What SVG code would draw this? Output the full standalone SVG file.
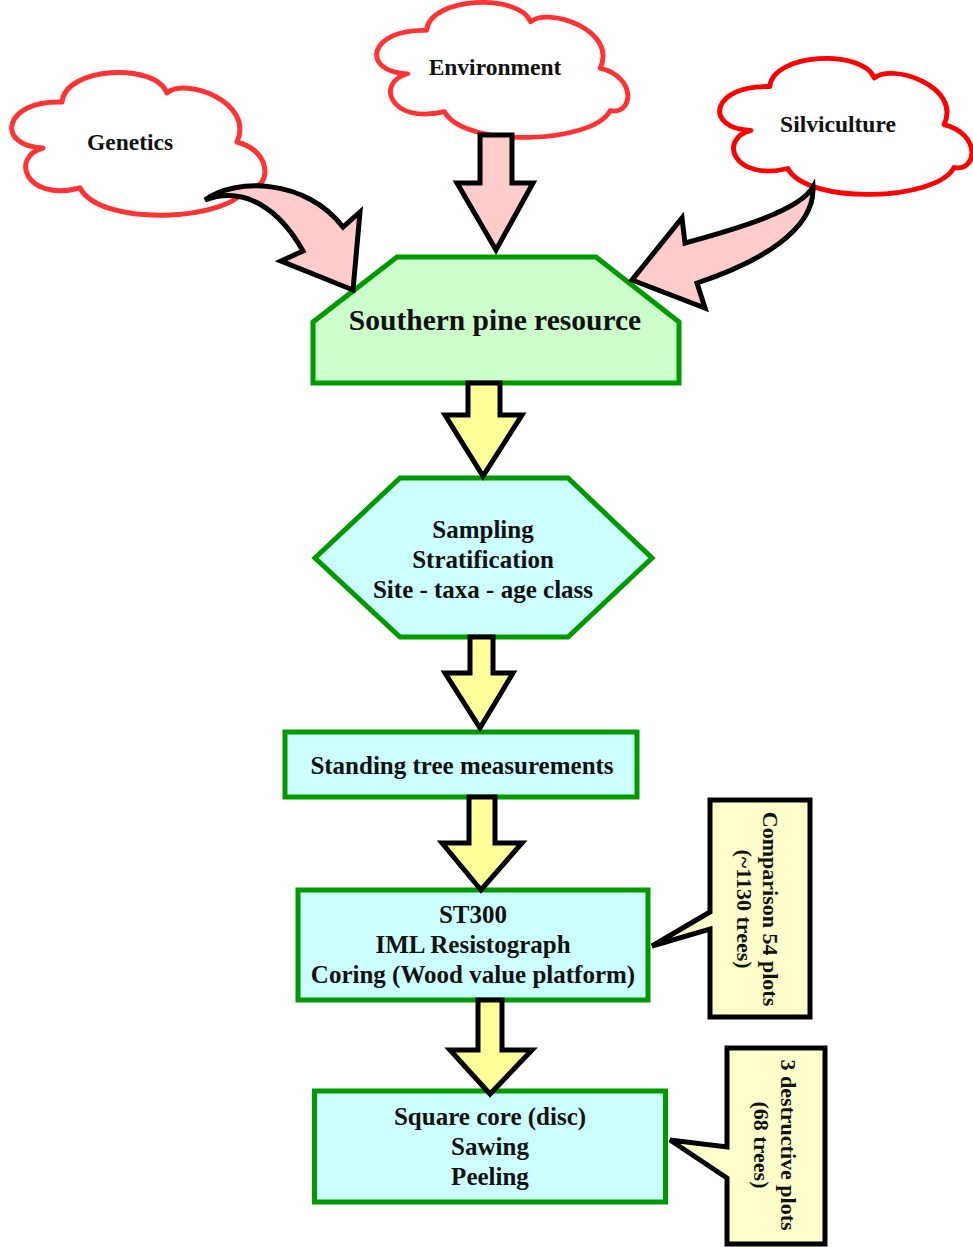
<svg xmlns="http://www.w3.org/2000/svg" width="973" height="1247" viewBox="0 0 973 1247">
<style>
.t{font-family:"Liberation Serif","Times New Roman",serif;font-weight:bold;fill:#111;text-anchor:middle}
.cloud{fill:#fff;stroke-width:5;stroke-linejoin:round}
.node{stroke:#009900;stroke-width:5}
.pk{fill:#FFCCCC;stroke:#000;stroke-width:5;stroke-linejoin:miter}
.yl{fill:#FFFF99;stroke:#000;stroke-width:5;stroke-linejoin:miter}
.co{fill:#FFFFCC;stroke:#000;stroke-width:5}
</style>
<defs>
<path id="cloudShape" d="M38,76 C-10,74 -2,28 57,30 C60,-5 150,-10 162,21 C180,5 250,30 232,70 C270,80 265,120 242,115 C225,150 95,155 75,116 C20,130 5,85 38,76 Z"/>
</defs>
<rect width="973" height="1247" fill="#fff"/>
<g id="genetics">
<use href="#cloudShape" class="cloud" stroke="#FF3333" transform="translate(5,72)"/>
<text class="t" x="130" y="150" font-size="23.5">Genetics</text>
</g>
<g id="environment">
<use href="#cloudShape" class="cloud" stroke="#FF3333" transform="translate(370,2) scale(0.992,0.945)"/>
<text class="t" x="495" y="75" font-size="23.5">Environment</text>
</g>
<g id="silviculture">
<use href="#cloudShape" class="cloud" stroke="#FF0000" transform="translate(713,58) scale(0.996,0.952)"/>
<text class="t" x="838" y="132" font-size="23.5">Silviculture</text>
</g>
<g id="southern-pine">
<polygon class="node" fill="#CCFFCC" points="397,257 596,257 679,322 679,383 313,383 313,322"/>
<text class="t" x="495" y="330" font-size="29.5">Southern pine resource</text>
</g>
<g id="sampling">
<polygon class="node" fill="#CCFFFF" points="400,478 568,478 652,558 568,637 400,637 315,558"/>
<text class="t" font-size="25"><tspan x="483" y="538">Sampling</tspan><tspan x="483" y="568">Stratification</tspan><tspan x="483" y="598">Site - taxa - age class</tspan></text>
</g>
<g id="standing">
<rect class="node" fill="#CCFFFF" x="285" y="732" width="352" height="65"/>
<text class="t" x="462" y="774" font-size="25">Standing tree measurements</text>
</g>
<g id="st300">
<rect class="node" fill="#CCFFFF" x="298" y="890" width="350" height="110"/>
<text class="t" font-size="25"><tspan x="473" y="923">ST300</tspan><tspan x="473" y="953">IML Resistograph</tspan><tspan x="473" y="983">Coring (Wood value platform)</tspan></text>
</g>
<g id="square-core">
<rect class="node" fill="#CCFFFF" x="314.5" y="1091" width="351" height="111"/>
<text class="t" font-size="25"><tspan x="490" y="1125">Square core (disc)</tspan><tspan x="490" y="1155">Sawing</tspan><tspan x="490" y="1185">Peeling</tspan></text>
</g>
<g id="callout-comparison">
<path class="co" d="M710,800 H810 V1017 H710 V929 L652,946 L710,912 Z"/>
<text class="t" font-size="22" transform="translate(760,909) rotate(90)"><tspan x="0" y="-3">Comparison 54 plots</tspan><tspan x="0" y="23">(~1130 trees)</tspan></text>
</g>
<g id="callout-destructive">
<path class="co" d="M727,1048 H825 V1244 H727 V1178 L670,1140 L727,1147 Z"/>
<text class="t" font-size="22" transform="translate(776,1145) rotate(90)"><tspan x="0" y="-5">3 destructive plots</tspan><tspan x="0" y="22">(68 trees)</tspan></text>
</g>
<g id="connectors">
<path class="pk" d="M205,200 C235,178 305,178 343,227 L360,212 L353,290 L281,261 L303,251 C280,210 245,185 205,200 Z"/>
<polygon class="pk" points="480,135 512,135 512,183 533,183 496,250 457,183 480,183"/>
<path class="pk" d="M813,187 C815,230 760,262 697,283 L705,308 L632,280 L682,218 L685,243 C740,228 800,210 813,187 Z"/>
<polygon class="yl" points="468,383 500,383 500,415 522,415 483,476 445,415 468,415"/>
<polygon class="yl" points="470,637 493,637 493,673 513,673 480,728 445,673 470,673"/>
<polygon class="yl" points="469,797 495,797 495,843 522,843 481,890 442,843 469,843"/>
<polygon class="yl" points="478,1000 502,1000 502,1050 532,1050 490,1094 450,1050 478,1050"/>
</g>
</svg>
